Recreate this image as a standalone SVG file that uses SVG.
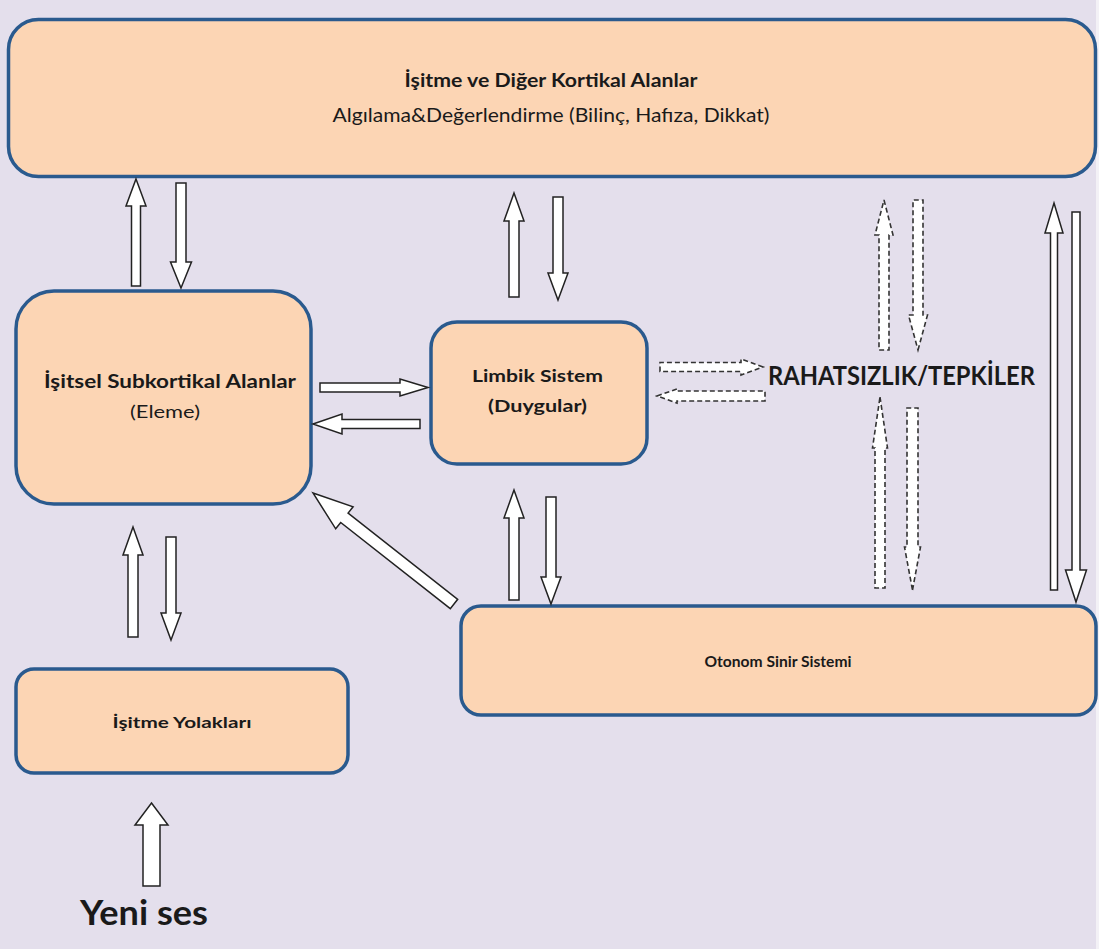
<svg xmlns="http://www.w3.org/2000/svg" width="1099" height="949" viewBox="0 0 1099 949">
<style>
.box{fill:#fcd5b4;stroke:#2a5a8e;stroke-width:3.5}
.t{font-family:Lato,"Open Sans","Liberation Sans",sans-serif;fill:#1a1a1a;text-anchor:middle}
.b{font-weight:bold}
.blk{fill:#fff;stroke:#222;stroke-width:1.5;stroke-linejoin:miter}
.dsh{fill:#fff;stroke:#333;stroke-width:1.6;stroke-dasharray:5 3}
</style>
<rect x="0" y="0" width="1099" height="949" fill="#e4dfec"/>
<rect x="1096" y="0" width="3" height="949" fill="#f3f1f6"/>

<g id="kortikal">
<rect class="box" x="8.5" y="19.5" width="1087" height="157" rx="30"/>
<text class="t b" x="551" y="87" font-size="19" textLength="293" lengthAdjust="spacingAndGlyphs">İşitme ve Diğer Kortikal Alanlar</text>
<text class="t" x="551" y="122" font-size="19" textLength="437" lengthAdjust="spacingAndGlyphs">Algılama&amp;Değerlendirme (Bilinç, Hafıza, Dikkat)</text>
</g>

<g id="subkortikal">
<rect class="box" x="16" y="291" width="295" height="213" rx="38"/>
<text class="t b" x="170" y="388" font-size="19" textLength="252" lengthAdjust="spacingAndGlyphs">İşitsel Subkortikal Alanlar</text>
<text class="t" x="165" y="418" font-size="18" textLength="70" lengthAdjust="spacingAndGlyphs">(Eleme)</text>
</g>

<g id="limbik">
<rect class="box" x="431" y="322" width="216" height="142" rx="26"/>
<text class="t b" x="537.5" y="382" font-size="17" textLength="131" lengthAdjust="spacingAndGlyphs">Limbik Sistem</text>
<text class="t b" x="537.5" y="412" font-size="17" textLength="99" lengthAdjust="spacingAndGlyphs">(Duygular)</text>
</g>

<g id="rahatsizlik">
<text class="t b" x="901.5" y="385" font-size="26" textLength="267" lengthAdjust="spacingAndGlyphs">RAHATSIZLIK/TEPKİLER</text>
</g>

<g id="otonom">
<rect class="box" x="461" y="606" width="635" height="109" rx="20"/>
<text class="t b" x="778" y="667" font-size="16" textLength="147" lengthAdjust="spacingAndGlyphs">Otonom Sinir Sistemi</text>
</g>

<g id="yolaklari">
<rect class="box" x="16" y="669" width="332" height="104" rx="18"/>
<text class="t b" x="182" y="728" font-size="16" textLength="139" lengthAdjust="spacingAndGlyphs">İşitme Yolakları</text>
</g>

<g id="yenises">
<text class="t b" x="144" y="925" font-size="34" textLength="128" lengthAdjust="spacingAndGlyphs">Yeni ses</text>
</g>

<g id="connectors">
<polygon class="blk" points="136,179 146,206 140.5,206 140.5,286 131.5,286 131.5,206 126,206"/>
<polygon class="blk" points="181,288 191.5,262 186,262 186,183 176,183 176,262 170.5,262"/>
<polygon class="blk" points="514,193 524,221 519,221 519,297 509,297 509,221 504,221"/>
<polygon class="blk" points="558,300 568,273 563,273 563,197 553,197 553,273 548,273"/>
<polygon class="blk" points="428,387.5 400,379 400,383 320,383 320,392 400,392 400,396"/>
<polygon class="blk" points="313,424 342,414 342,419.5 420,419.5 420,428.5 342,428.5 342,434"/>
<polygon class="blk" points="313,493 353.1,506.8 348.1,513.1 457.7,599.3 450.3,608.7 340.7,522.5 335.7,528.8"/>
<polygon class="blk" points="514,490 524,518 519,518 519,600 509,600 509,518 504,518"/>
<polygon class="blk" points="551,604 561,577 556,577 556,497 546,497 546,577 541,577"/>
<polygon class="blk" points="133,527 143,555 138,555 138,637 128,637 128,555 123,555"/>
<polygon class="blk" points="171,640 181,613 176,613 176,537 166,537 166,613 161,613"/>
<polygon class="blk" points="151.5,803 168,825 160,825 160,886 143,886 143,825 135,825"/>
<polygon class="blk" points="1054,203 1063,233 1057.5,233 1057.5,590 1050.5,590 1050.5,233 1045,233"/>
<polygon class="blk" points="1076,602 1086.5,570 1080,570 1080,212 1072,212 1072,570 1065.5,570"/>
<polygon class="dsh" points="884,200 893,235 889,235 889,350 879,350 879,235 875,235"/>
<polygon class="dsh" points="918,350 927.5,315 923,315 923,200 913,200 913,315 908.5,315"/>
<polygon class="dsh" points="763,367 741,359 741,362.5 660,362.5 660,371.5 741,371.5 741,375"/>
<polygon class="dsh" points="657,396 677,389 677,391 765,391 765,401 677,401 677,403"/>
<polygon class="dsh" points="880,397 887.5,448 885,448 885,588 875,588 875,448 872.5,448"/>
<polygon class="dsh" points="912.5,590 920.5,547 918,547 918,408 907,408 907,547 904.5,547"/>
</g>
</svg>
